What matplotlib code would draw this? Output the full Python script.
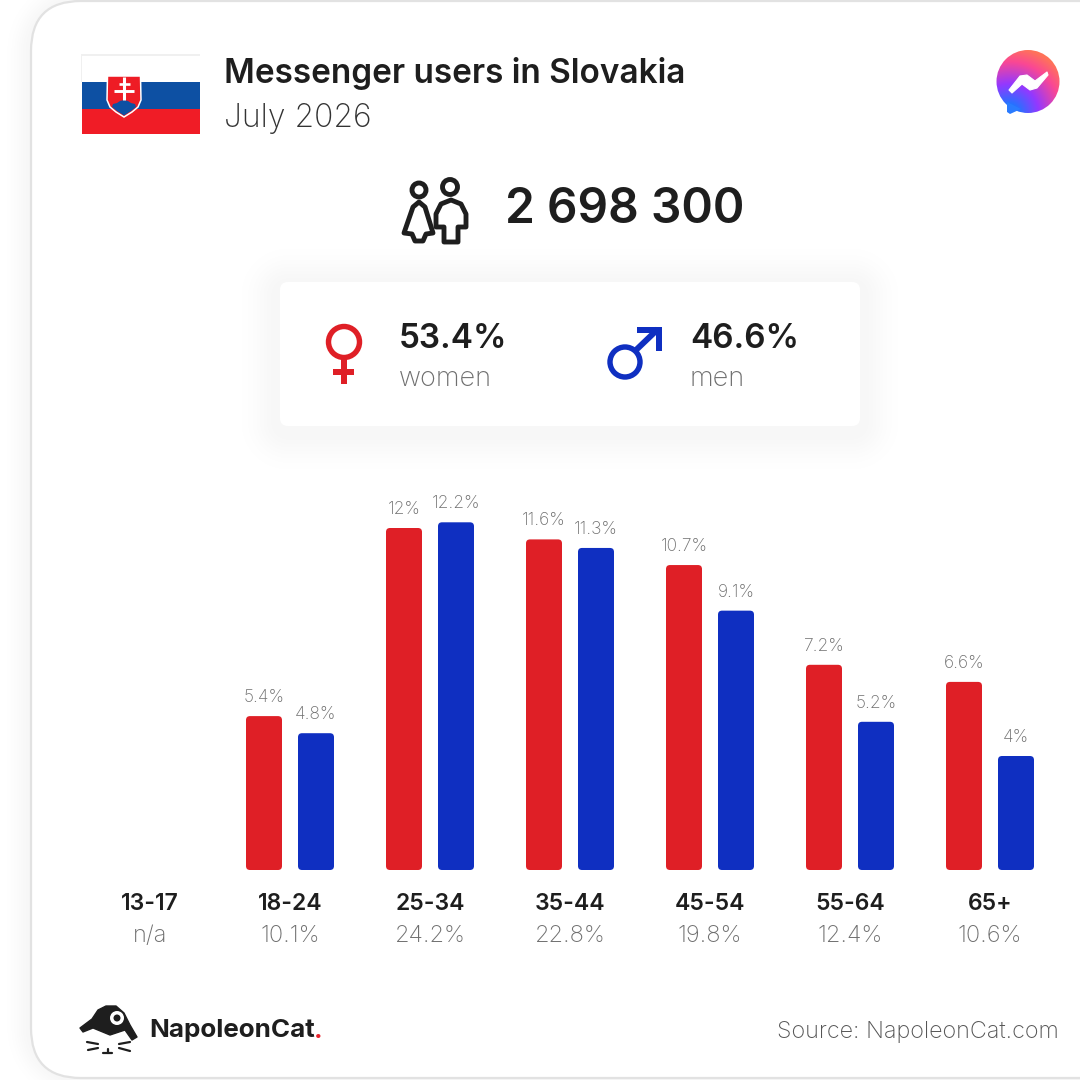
import numpy as np
import matplotlib
matplotlib.use('Agg')
import matplotlib.pyplot as plt
from matplotlib.patches import FancyBboxPatch, Rectangle, Circle, Polygon

# data
age_groups = ['13-17', '18-24', '25-34', '35-44', '45-54', '55-64', '65+']
age_share = ['n/a', '10.1%', '24.2%', '22.8%', '19.8%', '12.4%', '10.6%']
women = [None, 5.4, 12, 11.6, 10.7, 7.2, 6.6]
men = [None, 4.8, 12.2, 11.3, 9.1, 5.2, 4]
total_users = '2 698 300'
women_share = '53.4%'
men_share = '46.6%'

RED = '#df1f26'
BLUE = '#0f2fc1'
DARK = '#1e1e1e'
GREY = '#6f6f6f'
FONT = 'Inter'

fig = plt.figure(figsize=(10.8, 10.8), dpi=100, facecolor='white')

# page in pixel coordinates
bg = fig.add_axes([0, 0, 1, 1])
bg.axis('off')


def rounded(ax, x, y, w, h, r, **kw):
    p = FancyBboxPatch((x + r, y + r), w - 2 * r, h - 2 * r,
                       boxstyle='round,pad=%f,rounding_size=%f' % (r, r), **kw)
    ax.add_patch(p)
    return p


def soft_shadow(x, y, w, h, r, size, strength):
    # distance outside a rounded box, faded out to give a blurred shadow
    yy, xx = np.mgrid[0:1080, 0:1080] + 0.5
    dx = np.abs(xx - (x + w / 2)) - (w / 2 - r)
    dy = np.abs(yy - (y + h / 2)) - (h / 2 - r)
    dist = np.hypot(np.maximum(dx, 0), np.maximum(dy, 0)) - r
    return strength * np.exp(-(np.maximum(dist, 0) / size) ** 2)


# shadows of the outer card and of the gender card
rgba = np.zeros((1080, 1080, 4))
rgba[..., 3] = soft_shadow(31, 1, 1300, 1077, 50, 16, 0.035)
bg.imshow(rgba, extent=(0, 1080, 1080, 0), zorder=0, aspect='auto')
rounded(bg, 31, 1, 1300, 1077, 50, fc='white', ec='#e2e2e2', lw=1.6, zorder=1)
rgba2 = np.zeros((1080, 1080, 4))
rgba2[..., 3] = soft_shadow(280, 287, 580, 144, 8, 26, 0.035)
bg.imshow(rgba2, extent=(0, 1080, 1080, 0), zorder=1.5, aspect='auto')
bg.set_xlim(0, 1080)
bg.set_ylim(1080, 0)

# flag
bg.add_patch(Rectangle((81, 54), 119, 1.5, fc='#f0f0f0', ec='none', zorder=2))
bg.add_patch(Rectangle((81, 54), 1, 28, fc='#f0f0f0', ec='none', zorder=2))
bg.add_patch(Rectangle((82, 82), 118, 27, fc='#0d50a3', ec='none', zorder=2))
bg.add_patch(Rectangle((82, 109), 118, 25, fc='#f01c26', ec='none', zorder=2))
sx = [107.5, 140.5, 141, 138, 132, 124, 116, 110, 107]
sy = [76, 76, 100, 107, 112, 117, 112, 107, 100]
bg.add_patch(Polygon(list(zip(sx, sy)), fc='#ee1c25', ec='white', lw=1.1, zorder=3))
bg.add_patch(Polygon([(112, 107), (113, 104), (117, 103), (120, 101), (124, 100), (128, 101), (131, 103), (135, 104),
                      (136, 107), (131, 111), (124, 115.5), (117, 111)], fc='#0d50a3', ec='none', zorder=4))
bg.plot([124.3, 124.3], [77, 100], color='white', lw=2.2, solid_capstyle='butt', zorder=5)
bg.plot([119, 130], [84, 84], color='white', lw=1.9, solid_capstyle='butt', zorder=5)
bg.plot([114, 134], [91, 91], color='white', lw=2.1, solid_capstyle='butt', zorder=5)

# title
bg.text(224, 73, 'Messenger users in Slovakia', fontsize=24, fontweight='semibold', family=FONT, color=DARK, va='center')
bg.text(224, 118, 'July 2026', fontsize=23, fontweight='light', family=FONT, color='#333333', va='center')

# messenger logo
yy, xx = np.mgrid[0:1:200j, 0:1:200j]
t = np.clip(np.hypot(xx - 0.2, yy - 1.0) / 1.05, 0, 1)
cols = np.array([[0.10, 0.47, 1.0], [0.58, 0.22, 1.0], [0.98, 0.28, 0.58], [1.0, 0.45, 0.35]])
stops = [0.12, 0.45, 0.78, 1.0]
rgb = np.stack([np.interp(t, stops, cols[:, k]) for k in range(3)], axis=-1)
im = bg.imshow(rgb, extent=(996, 1060, 114, 50), zorder=2, aspect='auto')
bg.set_xlim(0, 1080)
bg.set_ylim(1080, 0)
im.set_clip_path(Circle((1028, 81.5), 31.5, transform=bg.transData))
bg.add_patch(Polygon([(1007, 102), (1007, 112), (1010, 114), (1021, 109)], fc='#2a7bff', ec='none', zorder=2))
bg.add_patch(Polygon([(1009, 90), (1020, 76), (1027, 75), (1035, 81), (1047, 72), (1048, 75), (1037, 88), (1030, 90),
                      (1022, 84), (1012, 93)], fc='white', ec='white', lw=0.8, joinstyle='round', zorder=3))

# people icon
lw_i = 3.5
bg.add_patch(Circle((419, 190), 7, fc='none', ec=DARK, lw=lw_i, zorder=3))
bg.add_patch(Circle((450, 187), 7.5, fc='none', ec=DARK, lw=lw_i, zorder=3))
bg.add_patch(Polygon([(419, 202), (413, 207), (404, 233), (412, 234), (415, 241), (423, 241), (426, 234), (433, 233),
                      (425, 207)], fc='none', ec=DARK, lw=lw_i, joinstyle='round', zorder=3))
bg.add_patch(Polygon([(451, 200), (441, 204), (436, 214), (436, 227), (444, 227), (444, 242), (458, 242), (458, 227),
                      (466, 227), (466, 214), (461, 204)], fc='none', ec=DARK, lw=lw_i, joinstyle='round', zorder=3))

bg.text(625, 210, total_users, fontsize=34.5, fontweight='semibold', family=FONT, color=DARK, ha='center', va='center')

# gender card
rounded(bg, 280, 282, 580, 144, 8, fc='white', ec='none', zorder=2)

bg.add_patch(Circle((344, 342), 15.5, fc='none', ec=RED, lw=3.9, zorder=3))
bg.add_patch(Rectangle((341, 358), 6, 26, fc=RED, ec='none', zorder=3))
bg.add_patch(Rectangle((333, 369), 21, 6, fc=RED, ec='none', zorder=3))
bg.add_patch(Circle((625, 362), 15, fc='none', ec=BLUE, lw=3.9, zorder=3))
bg.plot([635, 658], [351, 329], color=BLUE, lw=4.3, solid_capstyle='butt', zorder=3)
bg.add_patch(Polygon([(637, 327), (662, 327), (662, 351), (656, 351), (656, 333), (637, 333)], fc=BLUE, ec='none', zorder=3))

bg.text(399, 339, women_share, fontsize=24, fontweight='semibold', family=FONT, color=DARK, va='center', zorder=3)
bg.text(399, 379, 'women', fontsize=19.5, fontweight='light', family=FONT, color=GREY, va='center', zorder=3)
bg.text(690, 339, men_share, fontsize=24, fontweight='semibold', family=FONT, color=DARK, va='center', zorder=3)
bg.text(690, 379, 'men', fontsize=19.5, fontweight='light', family=FONT, color=GREY, va='center', zorder=3)

# bars, 28.5 px per percent, 140 px per age group
ax = fig.add_axes([80 / 1080, (1080 - 870) / 1080, 980 / 1080, 370 / 1080])
ax.set_xlim(-0.5, 6.5)
ax.set_ylim(0, 370 / 28.5)
ax.axis('off')
bar_w = 36 / 140
off = 26 / 140
r_x = 4 / 140
aspect = 140 / 28.5
for i, (w, m) in enumerate(zip(women, men)):
    for val, sign, col in ((w, -1, RED), (m, 1, BLUE)):
        if val is None:
            continue
        p = FancyBboxPatch((i + sign * off - bar_w / 2 + r_x, r_x * aspect), bar_w - 2 * r_x, val - 2 * r_x * aspect,
                           boxstyle='round,pad=%f,rounding_size=%f' % (r_x, r_x),
                           mutation_aspect=aspect, fc=col, ec='none')
        ax.add_patch(p)
        ax.annotate('%g%%' % val, (i + sign * off, val), xytext=(0, 10), textcoords='offset pixels', ha='center', va='bottom',
                    fontsize=12.5, fontweight='light', family=FONT, color=GREY)

for i, (g, s) in enumerate(zip(age_groups, age_share)):
    x = 150 + 140 * i
    bg.text(x, 904, g, fontsize=16.5, fontweight='semibold', family=FONT, color=DARK, ha='center', va='center')
    bg.text(x, 936, s, fontsize=17, fontweight='light', family=FONT, color=GREY, ha='center', va='center')

# footer logo
bg.add_patch(Polygon([(80, 1028), (92, 1019), (98, 1010), (106, 1006), (116, 1006), (124, 1013), (130, 1025), (137, 1037),
                      (132, 1040), (125, 1030), (110, 1035), (93, 1028), (83, 1032)], fc=DARK, ec=DARK, lw=1,
                     joinstyle='round', zorder=3))
bg.add_patch(Circle((117, 1018), 7, fc='white', ec='none', zorder=4))
bg.add_patch(Circle((117, 1018), 3.5, fc=DARK, ec='none', zorder=5))
for seg in ([(87, 1042), (98, 1044)], [(88, 1050), (98, 1048)], [(119, 1044), (130, 1042)], [(119, 1048), (130, 1051)],
            [(103, 1053), (112, 1053)], [(107.5, 1049), (107.5, 1053)]):
    bg.plot(*zip(*seg), color=DARK, lw=1.6, solid_capstyle='round', zorder=3)
bg.text(149, 1031, 'NapoleonCat', fontsize=18.7, fontweight='bold', family=FONT, color=DARK, va='center', zorder=3)
bg.text(314, 1031, '.', fontsize=18.7, fontweight='bold', family=FONT, color='#e8202a', va='center', zorder=3)
bg.text(1059, 1032, 'Source: NapoleonCat.com', fontsize=16.8, fontweight='light', family=FONT, color='#555555', ha='right', va='center', zorder=3)

fig.savefig('out.png', dpi=100, facecolor='white')
